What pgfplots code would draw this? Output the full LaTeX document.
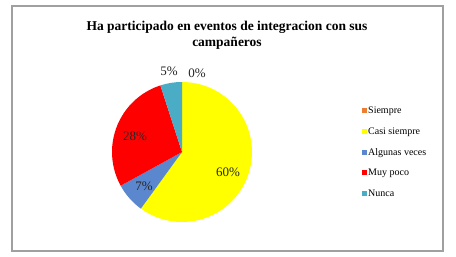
\documentclass[border=0pt]{standalone}
\usepackage{pgfplots}
\usepackage{pgfplotstable}
\pgfplotsset{compat=1.18}
\usepackage{fontspec}
\setmainfont{Liberation Serif}

\definecolor{cSiempre}{HTML}{ED7D31}
\definecolor{cCasi}{HTML}{FFFF00}
\definecolor{cAlgunas}{HTML}{5B87CF}
\definecolor{cMuy}{HTML}{FF0000}
\definecolor{cNunca}{HTML}{4BACC6}
\definecolor{frame}{HTML}{A0A0A0}

% Share of answers, in percent, in the order the slices run clockwise from the top
\pgfplotstableread{
name value
Siempre 0
Casi 60
Algunas 7
Muy 28
Nunca 5
}\piedata

\pgfplotstablegetelem{0}{value}\of\piedata \let\vA\pgfplotsretval
\pgfplotstablegetelem{1}{value}\of\piedata \let\vB\pgfplotsretval
\pgfplotstablegetelem{2}{value}\of\piedata \let\vC\pgfplotsretval
\pgfplotstablegetelem{3}{value}\of\piedata \let\vD\pgfplotsretval
\pgfplotstablegetelem{4}{value}\of\piedata \let\vE\pgfplotsretval

% slice boundaries (degrees), clockwise from 12 o'clock
\pgfmathsetmacro\aA{90}
\pgfmathsetmacro\aB{\aA-3.6*\vA}
\pgfmathsetmacro\aC{\aB-3.6*\vB}
\pgfmathsetmacro\aD{\aC-3.6*\vC}
\pgfmathsetmacro\aE{\aD-3.6*\vD}
\pgfmathsetmacro\aF{\aE-3.6*\vE}

\newcommand\slice[3]{%
  \fill[#1] (axis cs:182,105) -- ++(#2:70pt) arc[start angle=#2, end angle=#3, radius=70pt] -- cycle;}

\begin{document}
\begin{tikzpicture}
\begin{axis}[
  x=1pt, y=1pt,
  xmin=0, xmax=456, ymin=0, ymax=257,
  hide axis, clip=false,
  legend style={at={(axis cs:359,153)}, anchor=north west, draw=none, fill=none,
    font=\fontsize{10}{12}\selectfont, row sep=10.5pt,
    nodes={inner sep=1pt, anchor=base west}},
  legend cell align=left,
  legend image code/.code={\fill[#1, draw=none] (0pt,0.6pt) rectangle (5pt,5.6pt);},
]
  % page and frame
  \path[fill=white] (axis cs:0,0) rectangle (axis cs:456,257);
  \draw[frame, line width=1.2pt] (axis cs:12,6) rectangle (axis cs:443,251);

  % title
  \node[font=\bfseries\fontsize{13.5}{16}\selectfont, align=center]
    at (axis cs:227,222) {Ha participado en eventos de integracion con sus\\campañeros};

  % slices
  \slice{cSiempre}{\aA}{\aB}
  \slice{cCasi}{\aB}{\aC}
  \slice{cAlgunas}{\aC}{\aD}
  \slice{cMuy}{\aD}{\aE}
  \slice{cNunca}{\aE}{\aF}

  % data labels
  \begin{scope}[font=\fontsize{13}{15}\selectfont, text=black!85]
    \node at (axis cs:197,184) {\vA\%};
    \node at (axis cs:228,85) {\vB\%};
    \node at (axis cs:144,71) {\vC\%};
    \node at (axis cs:135,121) {\vD\%};
    \node at (axis cs:169,186) {\vE\%};
  \end{scope}

  % legend
  \addlegendimage{fill=cSiempre}
  \addlegendentry{Siempre}
  \addlegendimage{fill=cCasi}
  \addlegendentry{Casi siempre}
  \addlegendimage{fill=cAlgunas}
  \addlegendentry{Algunas veces}
  \addlegendimage{fill=cMuy}
  \addlegendentry{Muy poco}
  \addlegendimage{fill=cNunca}
  \addlegendentry{Nunca}
\end{axis}
\end{tikzpicture}
\end{document}
